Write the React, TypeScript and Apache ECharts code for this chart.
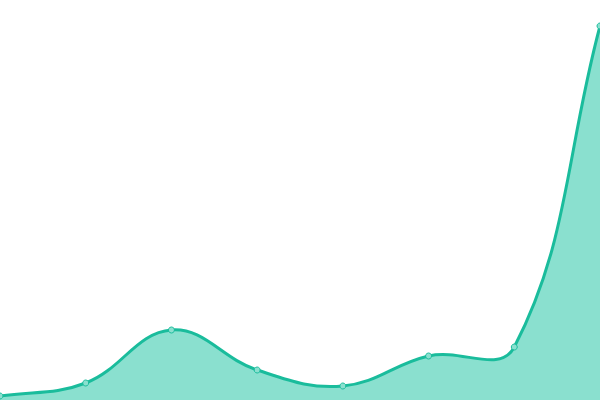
import React, { useEffect, useRef } from "react";
import * as echarts from "echarts";

const categories = ["1", "2", "3", "4", "5", "6", "7", "8"];
const values = [4, 17, 70, 30, 14, 44, 53, 374];

const TENSION = 0.4;
const LINE_COLOR = "#1abc9c";
const FILL_COLOR = "#8ae0cf";

// spline control points in pixel space (same idea as a cardinal spline with distance weighting)
function buildCurve(pts: number[][]): string {
  const n = pts.length;
  const cps: { prev: number[]; next: number[] }[] = [];
  for (let i = 0; i < n; i++) {
    const cur = pts[i];
    const prev = pts[i - 1] || cur;
    const next = pts[i + 1] || cur;
    const d01 = Math.hypot(cur[0] - prev[0], cur[1] - prev[1]);
    const d12 = Math.hypot(next[0] - cur[0], next[1] - cur[1]);
    let s01 = d01 / (d01 + d12);
    let s12 = d12 / (d01 + d12);
    if (isNaN(s01)) s01 = 0;
    if (isNaN(s12)) s12 = 0;
    const fa = TENSION * s01;
    const fb = TENSION * s12;
    cps.push({
      prev: [cur[0] - fa * (next[0] - prev[0]), cur[1] - fa * (next[1] - prev[1])],
      next: [cur[0] + fb * (next[0] - prev[0]), cur[1] + fb * (next[1] - prev[1])],
    });
  }
  let d = `M${pts[0][0]},${pts[0][1]}`;
  for (let i = 1; i < n; i++) {
    const a = cps[i - 1].next;
    const b = cps[i].prev;
    d += ` C${a[0]},${a[1]} ${b[0]},${b[1]} ${pts[i][0]},${pts[i][1]}`;
  }
  return d;
}

const App: React.FC = () => {
  const chartRef = useRef<HTMLDivElement>(null);

  useEffect(() => {
    if (!chartRef.current) return;
    const chart = echarts.init(chartRef.current, undefined, { renderer: "svg" });
    chart.setOption({
      animation: false,
      grid: { left: 0, right: 0, top: 0, bottom: 0 },
      xAxis: {
        type: "category",
        data: categories,
        boundaryGap: false,
        show: false,
      },
      yAxis: {
        type: "value",
        min: 0,
        max: 400,
        show: false,
      },
      series: [
        {
          type: "custom",
          data: values.map((v, i) => [i, v]),
          z: 1,
          renderItem: (params: any, api: any) => {
            if (params.dataIndex !== 0) return null;
            const pts = values.map((v, i) => api.coord([i, v]));
            const base = api.coord([values.length - 1, 0])[1];
            const curve = buildCurve(pts);
            const last = pts[pts.length - 1];
            const area = `${curve} L${last[0]},${base} L${pts[0][0]},${base} Z`;
            return {
              type: "group",
              children: [
                {
                  type: "path",
                  shape: { pathData: area },
                  style: { fill: FILL_COLOR, stroke: "none" },
                },
                {
                  type: "path",
                  shape: { pathData: curve },
                  style: { fill: "none", stroke: LINE_COLOR, lineWidth: 3 },
                },
              ],
            };
          },
        },
        {
          type: "line",
          data: values,
          z: 3,
          symbol: "circle",
          symbolSize: 6,
          lineStyle: { width: 0, opacity: 0 },
          itemStyle: { color: FILL_COLOR, borderColor: LINE_COLOR, borderWidth: 1 },
        },
      ],
    });
    return () => {
      chart.dispose();
    };
  }, []);

  return (
    <div
      ref={chartRef}
      style={{ position: "fixed", left: 0, top: 0, width: 600, height: 400 }}
    />
  );
};

export default App;
